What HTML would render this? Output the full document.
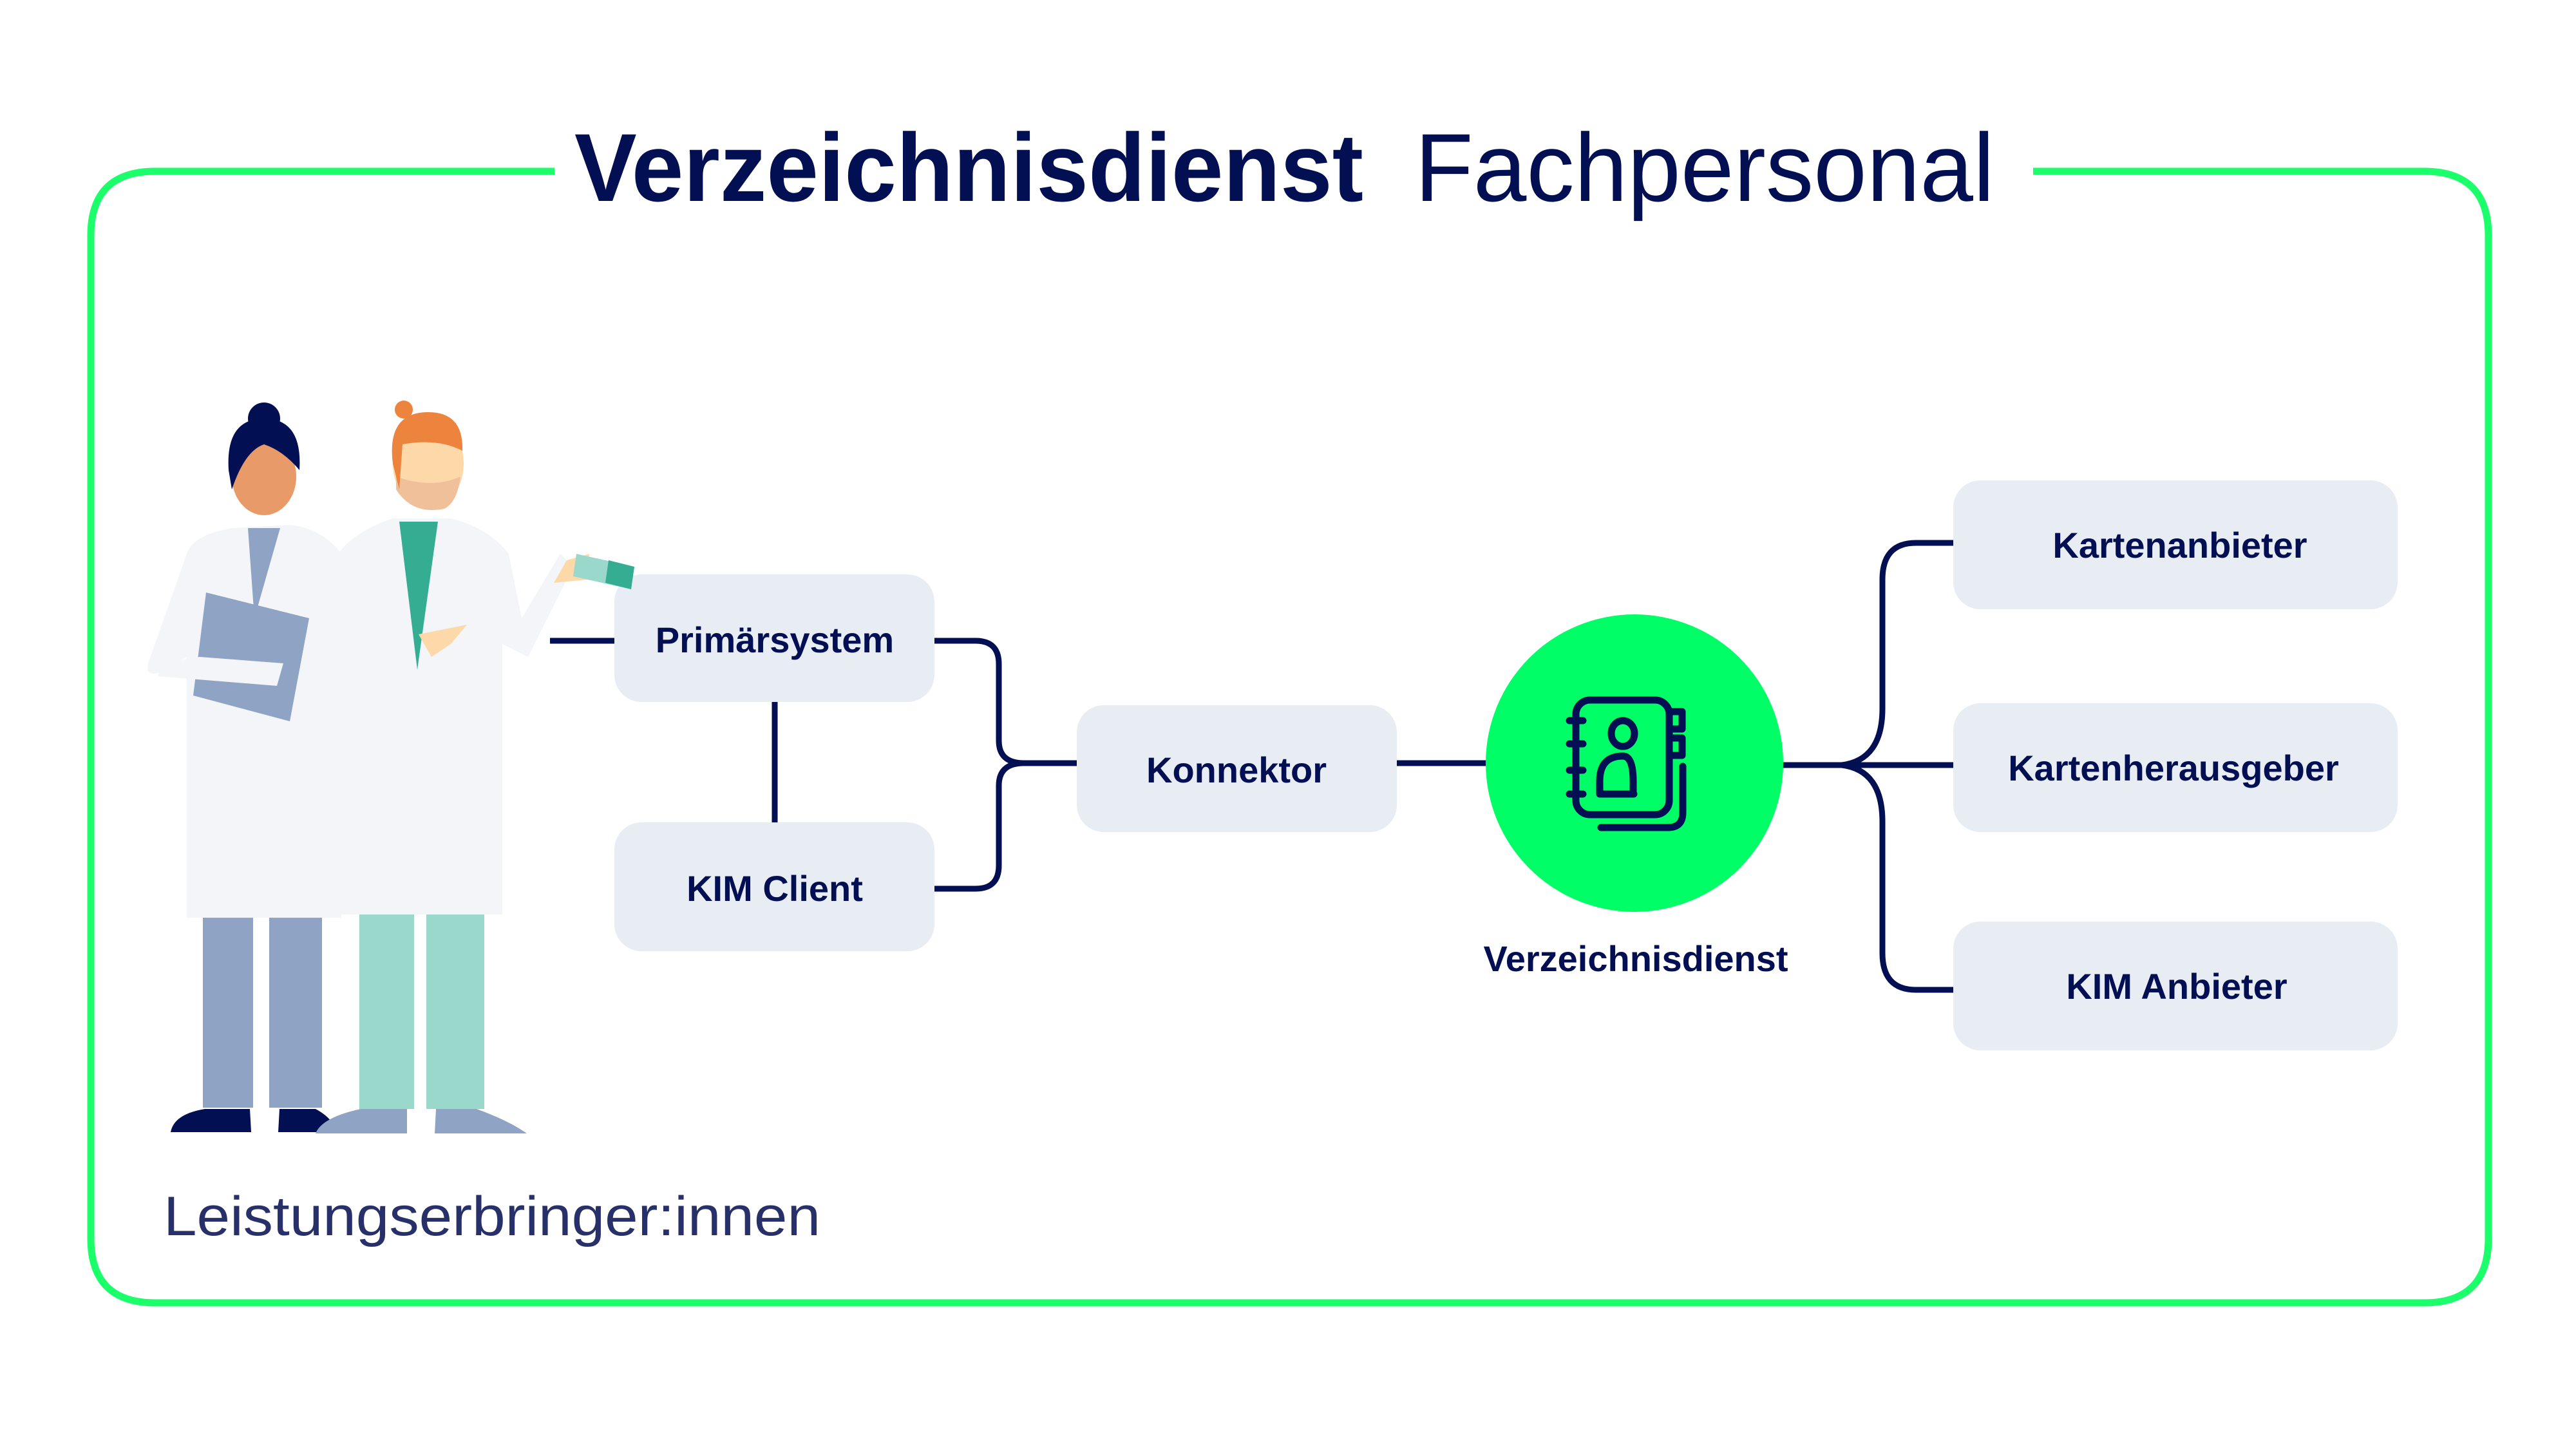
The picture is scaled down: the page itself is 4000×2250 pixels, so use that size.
<!DOCTYPE html>
<html><head><meta charset="utf-8"><style>html,body{margin:0;padding:0;background:#fff}svg{display:block}</style></head>
<body>
<svg width="4000" height="2250" viewBox="0 0 4000 2250" xmlns="http://www.w3.org/2000/svg" font-family="Liberation Sans, sans-serif">
<rect width="4000" height="2250" fill="#fff"/>
<path d="M861 266 H241 Q141 266 141 366 V1923 Q141 2023 241 2023 H3764 Q3864 2023 3864 1923 V366 Q3864 266 3764 266 H3157" fill="none" stroke="#1aff6a" stroke-width="11"/>
<text x="892" y="312" font-size="150" font-weight="bold" fill="#020f52" textLength="1225" lengthAdjust="spacingAndGlyphs">Verzeichnisdienst</text>
<text x="2197" y="312" font-size="150" fill="#020f52" textLength="900" lengthAdjust="spacingAndGlyphs">Fachpersonal</text>

<g fill="none" stroke="#020f52" stroke-width="9">
<line x1="854" y1="995" x2="954" y2="995"/>
<line x1="1203" y1="1090" x2="1203" y2="1277"/>
<path d="M1451 995 H1515 Q1551 995 1551 1031 V1150 Q1551 1185 1590 1185 H1672"/>
<path d="M1451 1380 H1515 Q1551 1380 1551 1344 V1220 Q1551 1185 1590 1185"/>
<line x1="2169" y1="1185" x2="2310" y2="1185"/>
<line x1="2765" y1="1188" x2="3033" y2="1188"/>
<path d="M2860 1188 Q2923 1180 2923 1100 V900 Q2923 843 2975 843 H3033"/>
<path d="M2860 1188 Q2923 1196 2923 1276 V1480 Q2923 1537 2975 1537 H3033"/>
</g>

<g fill="#e8edf4">
<rect x="954" y="892" width="497" height="198" rx="42"/>
<rect x="954" y="1277" width="497" height="200" rx="42"/>
<rect x="1672" y="1095" width="497" height="197" rx="42"/>
<rect x="3033" y="746" width="690" height="200" rx="42"/>
<rect x="3033" y="1092" width="690" height="200" rx="42"/>
<rect x="3033" y="1431" width="690" height="200" rx="42"/>
</g>
<g font-size="56" font-weight="bold" fill="#020f52" text-anchor="middle">
<text x="1203" y="1013">Primärsystem</text>
<text x="1203" y="1399">KIM Client</text>
<text x="1920" y="1215">Konnektor</text>
<text x="3385" y="866">Kartenanbieter</text>
<text x="3375" y="1212">Kartenherausgeber</text>
<text x="3380" y="1551">KIM Anbieter</text>
<text x="2540" y="1508">Verzeichnisdienst</text>
</g>

<circle cx="2538" cy="1185" r="231" fill="#00ff66"/>
<g fill="none" stroke="#020f52" stroke-width="11" stroke-linecap="round" stroke-linejoin="round">
<rect x="2447" y="1087" width="145" height="178" rx="22"/>
<line x1="2437" y1="1119" x2="2458" y2="1119"/>
<line x1="2437" y1="1155" x2="2458" y2="1155"/>
<line x1="2437" y1="1196" x2="2458" y2="1196"/>
<line x1="2437" y1="1233" x2="2458" y2="1233"/>
<rect x="2592" y="1105" width="20" height="27"/>
<rect x="2592" y="1146" width="20" height="27"/>
<path d="M2613 1190 V1262 Q2613 1285 2590 1285 H2486"/>
<ellipse cx="2520" cy="1139" rx="18" ry="20"/>
<path d="M2536 1233 V1213 Q2536 1174 2520 1174 Q2484 1174 2484 1213 V1233 H2537" />
</g>

<g>
<rect x="315" y="1420" width="78" height="300" fill="#8fa3c4"/>
<rect x="418" y="1420" width="82" height="300" fill="#8fa3c4"/>
<path d="M265 1758 Q270 1730 318 1722 H388 L390 1758Z" fill="#020f52"/>
<path d="M432 1758 L434 1722 H490 Q515 1735 525 1758Z" fill="#020f52"/>
<path d="M360 820 Q300 830 290 860 L230 1030 Q225 1050 245 1045 L290 1020 L290 1425 H530 L530 860 Q500 820 450 815Z" fill="#f3f5f9"/>
<path d="M385 820 L395 960 L435 820Z" fill="#8fa3c4"/>
<ellipse cx="410" cy="740" rx="50" ry="60" fill="#e89a68"/>
<path d="M355 730 Q350 650 410 650 Q470 650 465 730 Q440 700 410 690 Q380 700 360 760Z" fill="#020f52"/>
<circle cx="410" cy="650" r="25" fill="#020f52"/>
<path d="M320 920 L480 960 L450 1120 L300 1080Z" fill="#8fa3c4"/>
<path d="M310 1020 L250 1030 L245 1050 L430 1065 L440 1030Z" fill="#f3f5f9"/>
<rect x="558" y="1400" width="85" height="322" fill="#9ad8cc"/>
<rect x="662" y="1400" width="90" height="322" fill="#9ad8cc"/>
<path d="M490 1760 Q500 1735 560 1722 H632 L632 1760Z" fill="#8fa3c4"/>
<path d="M675 1760 L677 1722 H740 Q790 1740 818 1760Z" fill="#8fa3c4"/>
<path d="M610 805 Q550 825 525 860 L520 1420 H780 L780 1000 L820 1020 L890 880 L870 860 L810 960 L790 860 Q760 820 700 805Z" fill="#f3f5f9"/>
<path d="M620 810 L648 1040 L680 810Z" fill="#34ad93"/>
<ellipse cx="665" cy="720" rx="55" ry="70" fill="#fdd8a8"/>
<path d="M615 760 Q640 800 690 790 Q710 780 715 740 Q670 760 615 740Z" fill="#f0c09a"/>
<path d="M610 720 Q600 640 665 640 Q720 640 718 700 Q680 680 625 690 L620 760Z" fill="#ec843e"/>
<circle cx="627" cy="636" r="14" fill="#ec843e"/>
<path d="M650 985 L725 970 L700 1000 L670 1020Z" fill="#fdd8a8"/>
<path d="M860 905 L880 870 L915 860 L912 900 Z" fill="#fdd8a8"/>
<path d="M895 860 L985 880 L980 915 L890 895Z" fill="#9ad8cc"/>
<path d="M945 870 L985 880 L980 915 L940 905Z" fill="#34ad93"/>
</g>

<text x="254" y="1918" font-size="86" fill="#28306a" textLength="1020" lengthAdjust="spacingAndGlyphs">Leistungserbringer:innen</text>
</svg>
</body></html>
